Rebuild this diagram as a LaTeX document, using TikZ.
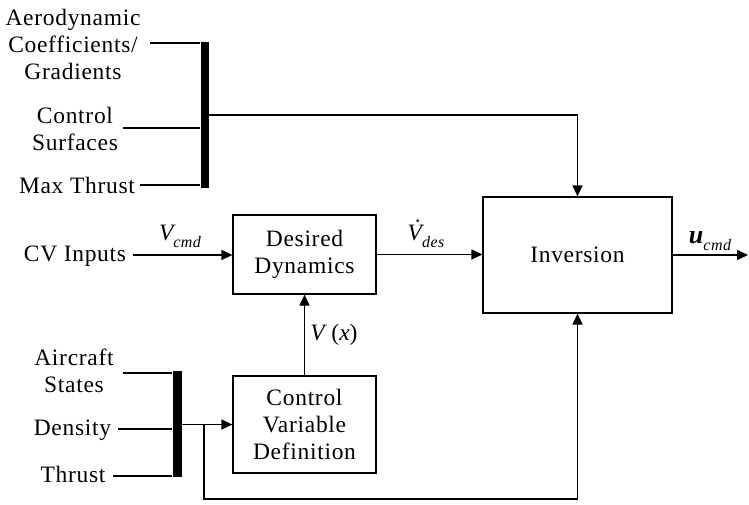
\documentclass[tikz,border=0pt]{standalone}
\usepackage{fontspec}
\setmainfont{Liberation Serif}[LetterSpace=3]
\usetikzlibrary{arrows.meta}
\newcommand\subtxt[1]{\raisebox{-0.3em}{\fontsize{16}{16}\selectfont\itshape #1}}
\newcommand\dotV{{\itshape\accent"02D9 V}}
\begin{document}
\begin{tikzpicture}[x=1pt,y=-1pt,
  every node/.style={font=\fontsize{23.5}{27}\selectfont},
  lbl/.style={align=center,inner sep=0pt},
  blk/.style={draw,line width=1.2pt,inner sep=0pt,align=center},
  bus/.style={fill=black,inner sep=0pt,minimum width=8pt},
  wire/.style={line width=1.2pt},
  arr/.style={wire,-{Triangle[length=11pt,width=10pt]}}]
\useasboundingbox (0,0) rectangle (749,504);

% blocks
\node[blk,minimum width=143pt,minimum height=79pt] (dd) at (304.5,254.5) {Desired\\Dynamics};
\node[blk,minimum width=189pt,minimum height=116pt] (inv) at (577.5,255) {Inversion};
\node[blk,minimum width=143pt,minimum height=97pt] (cvd) at (304.5,424.5) {Control\\Variable\\Definition};

% bus bars
\node[bus,minimum height=146pt] (bus1) at (204.5,115) {};
\node[bus,minimum height=106pt,minimum width=9pt] (bus2) at (177,424) {};

% input labels
\node[lbl] (aero) at (73,44) {Aerodynamic\\Coefficients/\\Gradients};
\node[lbl] (csurf) at (75,129) {Control\\Surfaces};
\node[lbl] (mthr) at (77,185) {Max Thrust};
\node[lbl] (cvin) at (75,256) {CV Inputs};
\node[lbl] (acst) at (74,371) {Aircraft\\States};
\node[lbl] (dens) at (72.5,430) {Density};
\node[lbl] (thr) at (73,474) {Thrust};

% wire ends
\coordinate (a1) at (150,43);
\coordinate (a2) at (123,128);
\coordinate (a3) at (140,185);
\coordinate (c0) at (133,255);
\coordinate (b1) at (123,373);
\coordinate (b2) at (118,429);
\coordinate (b3) at (113,476);
\coordinate (uo) at (748,255);
\coordinate (j) at (204,424.5);
\coordinate (jb) at (204,499);

\draw[wire] (a1) -- (a1 -| bus1.west);
\draw[wire] (a2) -- (a2 -| bus1.west);
\draw[wire] (a3) -- (a3 -| bus1.west);
\draw[arr] (bus1.east |- 0,115) -| (inv.north);

\draw[arr] (c0) -- (c0 -| dd.west);
\draw[arr] (dd.east) -- (dd.east -| inv.west);
\draw[arr] (inv.east) -- (uo);
\draw[arr] (cvd.north) -- (dd.south);

\draw[wire] (b1) -- (b1 -| bus2.west);
\draw[wire] (b2) -- (b2 -| bus2.west);
\draw[wire] (b3) -- (b3 -| bus2.west);
\draw[arr] (bus2.east |- cvd.west) -- (cvd.west);
\draw[arr] (j) -- (jb) -| (inv.south);

% signal labels
\node[lbl] (vcmd) at (180,236) {{\itshape V}\subtxt{cmd}};
\node[lbl] (vdes) at (426,234) {\dotV\subtxt{des}};
\node[lbl] (vx) at (334,335) {{\itshape V}\ ({\itshape x})};
\node[lbl] (ucmd) at (710,241) {{\fontsize{26}{27}\selectfont\bfseries\itshape u}\subtxt{cmd}};
\end{tikzpicture}
\end{document}
